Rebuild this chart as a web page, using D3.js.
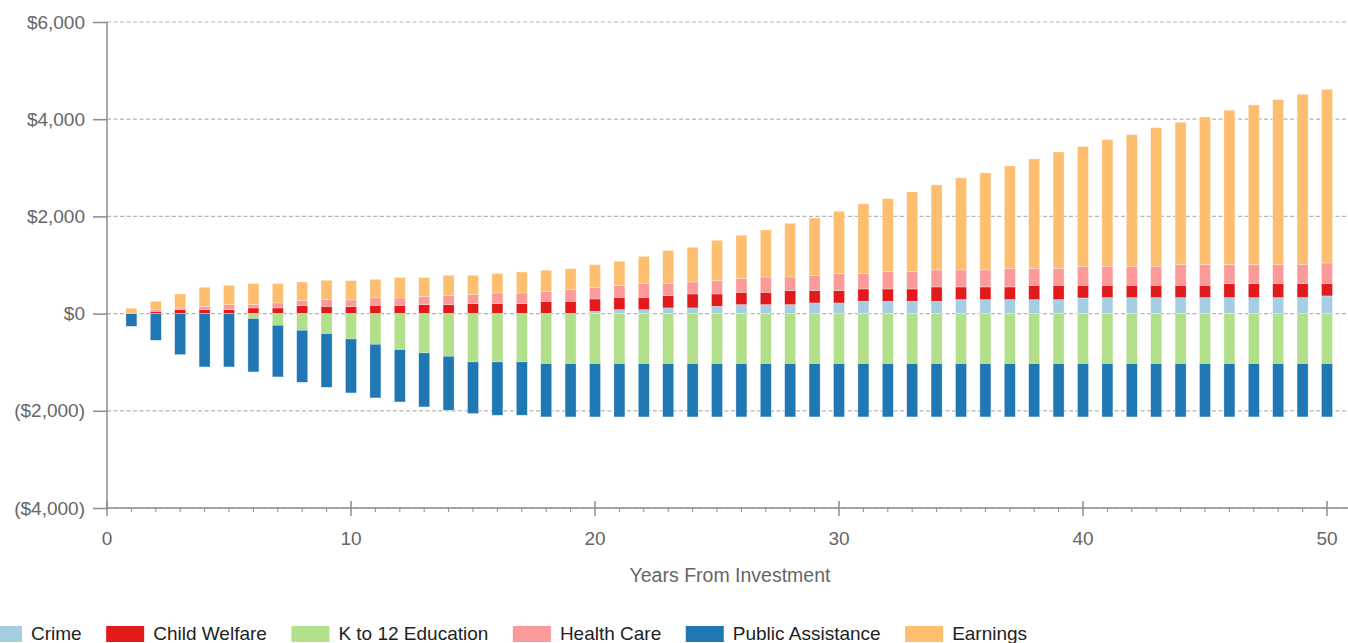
<!DOCTYPE html>
<html>
<head>
<meta charset="utf-8">
<script src="https://cdn.jsdelivr.net/npm/d3@7"></script>
<style>
  body { margin: 0; background: #fff; overflow: hidden; }
  svg { display: block; font-family: "Liberation Sans", Arial, sans-serif; }
</style>
</head>
<body>
<script>
// values, years 1..50
const years = d3.range(1, 51);

const crime = [0,0,0,0,0,0,0,0,0,0, 0,0,0,0,0,0,0,0,0,48,
  82,82,117,117,151,185,185,185,219,219, 254,254,254,254,288,288,288,288,288,322,
  329,329,329,329,329,329,329,329,329,364];
const childWelfare = [0,48,82,82,82,117,117,165,151,145, 171,171,185,185,206,206,206,254,254,254,
  254,254,254,288,254,254,254,288,254,254, 254,254,254,295,261,261,261,295,295,261,
  254,254,254,254,254,288,288,288,288,254];
const k12Education = [0,0,0,0,0,-103,-240,-343,-412,-521, -631,-741,-809,-878,-994,-994,-994,-1029,-1029,-1029,
  -1029,-1029,-1029,-1029,-1029,-1029,-1029,-1029,-1029,-1029, -1029,-1029,-1029,-1029,-1029,-1029,-1029,-1029,-1029,-1029,
  -1029,-1029,-1029,-1029,-1029,-1029,-1029,-1029,-1029,-1029];
const healthCare = [10,34,34,69,103,69,103,103,137,137, 151,151,171,192,185,219,219,206,240,240,
  240,281,247,247,281,281,315,281,315,350, 322,357,357,350,350,350,384,350,350,384,
  391,391,391,425,425,391,391,391,391,425];
const publicAssistance = [-261,-549,-844,-1097,-1097,-1097,-1063,-1070,-1104,-1111, -1104,-1077,-1111,-1111,-1063,-1097,-1097,-1097,-1097,-1097,
  -1097,-1097,-1097,-1097,-1097,-1097,-1097,-1097,-1097,-1097, -1097,-1097,-1097,-1097,-1097,-1097,-1097,-1097,-1097,-1097,
  -1097,-1097,-1097,-1097,-1097,-1097,-1097,-1097,-1097,-1097];
const earnings = [100,171,288,391,398,432,398,384,398,398, 384,418,384,412,398,398,432,432,432,466,
  501,562,679,713,823,892,967,1104,1180,1283, 1427,1502,1639,1749,1893,1996,2106,2250,2394,2469,
  2606,2709,2853,2929,3038,3176,3285,3395,3505,3573];

const seriesNames = ["Crime", "Child Welfare", "K to 12 Education", "Health Care", "Public Assistance", "Earnings"];
const seriesValues = [crime, childWelfare, k12Education, healthCare, publicAssistance, earnings];
const seriesColors = ["#a6cee3", "#e31a1c", "#b2df8a", "#fb9a99", "#1f78b4", "#fdbf6f"];
const yTicks = [-4000, -2000, 0, 2000, 4000, 6000];
const xTicks = [0, 10, 20, 30, 40, 50];
const xTitle = "Years From Investment";

const width = 1348, height = 643;
const margin = { left: 107, right: 1327, top: 22, bottom: 508 };
const textColor = "#666", axisColor = "#8c8c8c";

const rows = years.map((yr, i) => {
  const r = { year: yr };
  seriesNames.forEach((n, j) => r[n] = seriesValues[j][i]);
  return r;
});

const stacked = d3.stack()
  .keys(seriesNames)
  .offset(d3.stackOffsetDiverging)(rows);

const x = d3.scaleLinear().domain([0, 50]).range([margin.left, margin.right]);
const y = d3.scaleLinear().domain([-4000, 6000]).range([margin.bottom, margin.top]);

const svg = d3.select("body").append("svg")
  .attr("width", width)
  .attr("height", height);

// dashed grid
svg.append("g")
  .selectAll("line")
  .data(yTicks)
  .join("line")
    .attr("x1", margin.left).attr("x2", width)
    .attr("y1", d => y(d)).attr("y2", d => y(d))
    .attr("stroke", "#b4b4b4")
    .attr("stroke-width", 1.2)
    .attr("stroke-dasharray", "4,2.5");

// bars
const barW = 11;
svg.append("g")
  .selectAll("g")
  .data(stacked)
  .join("g")
    .attr("fill", (d, i) => seriesColors[i])
  .selectAll("rect")
  .data(d => d)
  .join("rect")
    .attr("x", d => x(d.data.year) - barW / 2)
    .attr("width", barW)
    .attr("y", d => y(Math.max(d[0], d[1])))
    .attr("height", d => Math.abs(y(d[0]) - y(d[1])))
    .attr("stroke", "#fff")
    .attr("stroke-opacity", 0.5)
    .attr("stroke-width", 0.6);

// y axis
const yAxis = svg.append("g")
  .attr("transform", `translate(${margin.left},0)`)
  .call(d3.axisLeft(y)
    .tickValues(yTicks)
    .tickSize(14)
    .tickPadding(8)
    .tickFormat(v => v < 0 ? `($${d3.format(",")(-v)})` : `$${d3.format(",")(v)}`));
yAxis.select(".domain").attr("stroke", axisColor).attr("stroke-width", 1.5)
  .attr("d", `M0,${margin.top}V${margin.bottom}`);
yAxis.selectAll(".tick line").attr("stroke", axisColor).attr("stroke-width", 1.5);
yAxis.selectAll(".tick text")
  .attr("fill", textColor)
  .style("font-size", "19px")
  .style("font-family", "inherit");

// x axis
const xAxis = svg.append("g")
  .attr("transform", `translate(0,${margin.bottom})`);
xAxis.append("line")
  .attr("x1", margin.left).attr("x2", width)
  .attr("stroke", axisColor).attr("stroke-width", 1.5);
xAxis.selectAll(".minor")
  .data(d3.range(1, 51).filter(v => v % 10 !== 0))
  .join("line")
    .attr("class", "minor")
    .attr("x1", d => x(d)).attr("x2", d => x(d))
    .attr("y1", 0).attr("y2", 4)
    .attr("stroke", axisColor).attr("stroke-width", 1);
xAxis.selectAll(".major")
  .data(xTicks)
  .join("line")
    .attr("class", "major")
    .attr("x1", d => x(d)).attr("x2", d => x(d))
    .attr("y1", -7).attr("y2", 8)
    .attr("stroke", axisColor).attr("stroke-width", 1.5);
xAxis.selectAll("text")
  .data(xTicks)
  .join("text")
    .attr("x", d => x(d))
    .attr("y", 37)
    .attr("text-anchor", "middle")
    .attr("fill", textColor)
    .style("font-size", "19px")
    .text(d => d);

svg.append("text")
  .attr("x", 730)
  .attr("y", 582)
  .attr("text-anchor", "middle")
  .attr("fill", textColor)
  .style("font-size", "19.5px")
  .text(xTitle);

// legend sits at the very bottom edge, as in the picture
const legend = svg.append("g").attr("transform", "translate(0,626)");
let lx = -16;
seriesNames.forEach((n, i) => {
  legend.append("rect")
    .attr("x", lx).attr("y", 0)
    .attr("width", 38).attr("height", 16)
    .attr("fill", seriesColors[i]);
  const t = legend.append("text")
    .attr("x", lx + 47)
    .attr("y", 14)
    .attr("fill", "#222")
    .style("font-size", "19px")
    .text(n);
  lx += 47 + t.node().getComputedTextLength() + 24.5;
});
</script>
</body>
</html>
